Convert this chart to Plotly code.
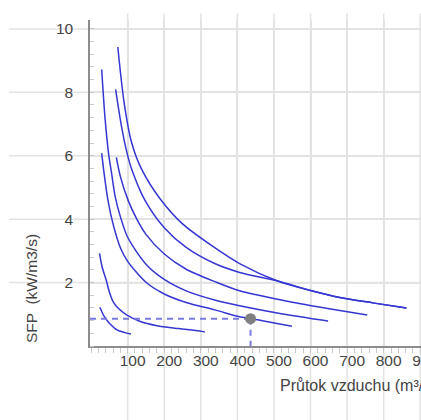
import plotly.graph_objects as go

# ---- data ----
curve_G_x = [24, 35, 50, 72, 90, 109]
curve_G_y = [1.22, 0.95, 0.72, 0.50, 0.43, 0.38]

curve_F_x = [23, 30, 42, 50, 60, 75, 97, 133, 180, 240, 297, 311]
curve_F_y = [2.92, 2.5, 2.05, 1.7, 1.4, 1.18, 0.98, 0.78, 0.64, 0.55, 0.47, 0.44]

curve_D_x = [29, 34.5, 46, 60, 80, 100, 150, 200, 260, 338, 406, 436, 490, 549]
curve_D_y = [6.08, 5.54, 4.6, 3.85, 3.1, 2.67, 2.01, 1.64, 1.37, 1.14, 0.92, 0.87, 0.75, 0.62]

curve_A_x = [29, 38, 48, 56, 66, 80, 100, 150, 200, 260, 338, 406, 520, 648]
curve_A_y = [8.72, 7.2, 6.05, 5.45, 4.7, 4.08, 3.43, 2.58, 2.1, 1.74, 1.45, 1.27, 1.02, 0.79]

curve_E_x = [69, 80, 101, 125, 150, 200, 260, 338, 406, 550, 680, 755]
curve_E_y = [5.95, 5.35, 4.6, 4.0, 3.52, 2.9, 2.42, 2.03, 1.74, 1.38, 1.12, 0.98]

curve_C_x = [67, 82, 98, 112, 147, 200, 260, 338, 406, 510, 600, 680, 770, 862]
curve_C_y = [8.09, 7.0, 6.1, 5.54, 4.6, 3.73, 3.11, 2.6, 2.32, 2.05, 1.75, 1.53, 1.36, 1.2]

curve_B_x = [73, 90, 110, 137, 188, 250, 338, 406, 510, 600, 680, 770, 862]
curve_B_y = [9.43, 7.7, 6.45, 5.6, 4.65, 3.85, 3.1, 2.6, 2.05, 1.75, 1.53, 1.36, 1.2]

curves = [
    (curve_G_x, curve_G_y), (curve_F_x, curve_F_y), (curve_D_x, curve_D_y),
    (curve_A_x, curve_A_y), (curve_E_x, curve_E_y), (curve_C_x, curve_C_y),
    (curve_B_x, curve_B_y),
]

point_x = 436
point_y = 0.86

x_ticks = [100, 200, 300, 400, 500, 600, 700, 800, 900]
y_ticks = [2, 4, 6, 8, 10]
x_range = [-3, 902]
y_range = [0, 10.28]

x_title = "Průtok vzduchu (m³/h)"
y_title = "SFP  (kW/m3/s)"

# ---- styles ----
LINE = "#3636d2"
DASH = "#7a7ae0"
GRID = "#e3e3e3"
AXIS = "#8c8c8c"
MINOR = "#c8c8c8"
TXT = "#444444"
FONT = "Liberation Sans, Arial, sans-serif"

fig = go.Figure()

for cx, cy in curves:
    fig.add_trace(go.Scatter(
        x=cx, y=cy, mode="lines",
        line=dict(color=LINE, width=1.5, shape="spline", smoothing=0.8),
        hoverinfo="skip", showlegend=False,
    ))

# dashed guide lines to the operating point
fig.add_trace(go.Scatter(
    x=[x_range[0], point_x], y=[point_y, point_y], mode="lines",
    line=dict(color=DASH, width=2, dash="6px,5px"), showlegend=False, hoverinfo="skip",
))
fig.add_trace(go.Scatter(
    x=[point_x, point_x], y=[point_y, y_range[0]], mode="lines",
    line=dict(color=DASH, width=2, dash="6px,5px"), showlegend=False, hoverinfo="skip",
))
fig.add_trace(go.Scatter(
    x=[point_x], y=[point_y], mode="markers",
    marker=dict(color="#808080", size=11), showlegend=False, hoverinfo="skip",
))

shapes = []
for v in x_ticks:
    shapes.append(dict(type="line", xref="x", yref="paper", x0=v, x1=v, y0=-0.24, y1=1.02,
                       line=dict(color=GRID, width=1.5), layer="below"))
for v in y_ticks:
    shapes.append(dict(type="line", xref="paper", yref="y", x0=-0.245, x1=1, y0=v, y1=v,
                       line=dict(color=GRID, width=1.5), layer="below"))

fig.update_layout(
    width=421, height=420,
    margin=dict(l=90, r=0, t=20, b=74, pad=0),
    paper_bgcolor="white", plot_bgcolor="white",
    font=dict(family=FONT, size=15, color=TXT),
    shapes=shapes,
    showlegend=False,
    annotations=[
        dict(text=y_title, xref="paper", yref="paper", x=-0.175, y=0.175,
             textangle=-90, showarrow=False, xanchor="center", yanchor="middle",
             font=dict(family=FONT, size=15.5, color=TXT)),
        dict(text=x_title, xref="paper", yref="paper", x=0.568, y=-0.12,
             showarrow=False, xanchor="left", yanchor="middle",
             font=dict(family=FONT, size=16, color=TXT)),
    ],
)

fig.update_xaxes(
    range=x_range, tickmode="array", tickvals=x_ticks,
    showgrid=True, gridcolor=GRID, gridwidth=1.5, zeroline=False,
    showline=True, linecolor=AXIS, linewidth=1.5,
    ticks="", ticklabelshift=5, ticklabelstandoff=0, ticklabeloverflow="allow",
    tickfont=dict(family=FONT, size=15.5, color=TXT),
    minor=dict(dtick=20, tick0=0, ticks="outside", ticklen=5, tickcolor=MINOR, tickwidth=1, showgrid=False),
    automargin=False, fixedrange=True,
)
fig.update_yaxes(
    range=y_range, tickmode="array", tickvals=y_ticks,
    showgrid=True, gridcolor=GRID, gridwidth=1.5, zeroline=False,
    showline=True, linecolor=AXIS, linewidth=1.5,
    ticks="", ticklabelstandoff=12,
    tickfont=dict(family=FONT, size=15.5, color=TXT),
    minor=dict(dtick=0.4, tick0=0, ticks="inside", ticklen=4, tickcolor=MINOR, tickwidth=1, showgrid=False),
    automargin=False, fixedrange=True,
)

fig.write_html(
    "out.html",
    config={"displayModeBar": False},
    post_script="document.body.style.margin='0';document.body.style.overflow='hidden';",
)
